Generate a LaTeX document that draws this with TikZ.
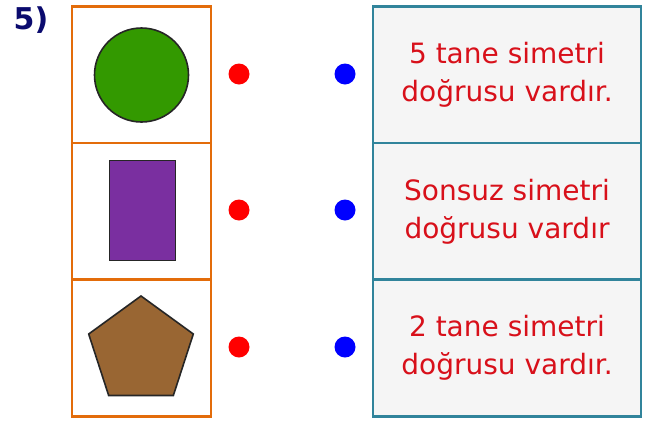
\documentclass[tikz,border=0pt]{standalone}
\usepackage{fontspec}
\setmainfont{DejaVu Sans}
\usetikzlibrary{shapes.geometric}
\definecolor{orangeb}{HTML}{E36C0A}
\definecolor{tealb}{HTML}{31849B}
\definecolor{boxfill}{HTML}{F5F5F5}
\definecolor{txtred}{HTML}{D8101A}
\definecolor{navy}{HTML}{0A0A6E}
\definecolor{cgreen}{HTML}{339900}
\definecolor{cpurple}{HTML}{7A2FA0}
\definecolor{cbrown}{HTML}{996633}
\tikzset{
  leftbox/.style={draw=orangeb, line width=2.8pt, fill=white, minimum width=139pt, minimum height=137pt, inner sep=0pt},
  rightbox/.style={draw=tealb, line width=2.8pt, fill=boxfill, minimum width=268pt, minimum height=137pt, inner sep=0pt, align=center, text=txtred, font=\fontsize{28}{38}\selectfont},
  shapeline/.style={draw=black!85, line width=1.6pt},
  reddot/.style={circle, fill=red, minimum size=21pt, inner sep=0pt},
  bluedot/.style={circle, fill=blue, minimum size=21pt, inner sep=0pt},
}
\begin{document}
\begin{tikzpicture}[x=1pt,y=-1pt]
\useasboundingbox (0,0) rectangle (659,421);
\fill[white] (0,0) rectangle (659,421);
\node[font=\bfseries\fontsize{30}{30}\selectfont, text=navy] (num) at (31,20) {5)};
% left boxes
\node[leftbox] (l1) at (141.5,75) {};
\node[leftbox] (l2) at (141.5,211.5) {};
\node[leftbox] (l3) at (141.5,348) {};
% right boxes
\node[rightbox] (r1) at (507,75) {5 tane simetri\\doğrusu vardır.};
\node[rightbox] (r2) at (507,211.5) {Sonsuz simetri\\doğrusu vardır};
\node[rightbox] (r3) at (507,348) {2 tane simetri\\doğrusu vardır.};
% shapes
\node[circle, shapeline, fill=cgreen, minimum size=94pt, inner sep=0pt] (circ) at (l1.center) {};
\node[rectangle, shapeline, fill=cpurple, minimum width=66pt, minimum height=100pt, inner sep=0pt] (rect) at (142.5,210.5) {};
\node[regular polygon, regular polygon sides=5, shapeline, fill=cbrown, minimum size=110pt, inner sep=0pt] (pent) at (141,351) {};
% dots
\node[reddot] (a1) at (239,74) {};
\node[reddot] (a2) at (239,210) {};
\node[reddot] (a3) at (239,347) {};
\node[bluedot] (b1) at (345,74) {};
\node[bluedot] (b2) at (345,210) {};
\node[bluedot] (b3) at (345,347) {};
\end{tikzpicture}
\end{document}
